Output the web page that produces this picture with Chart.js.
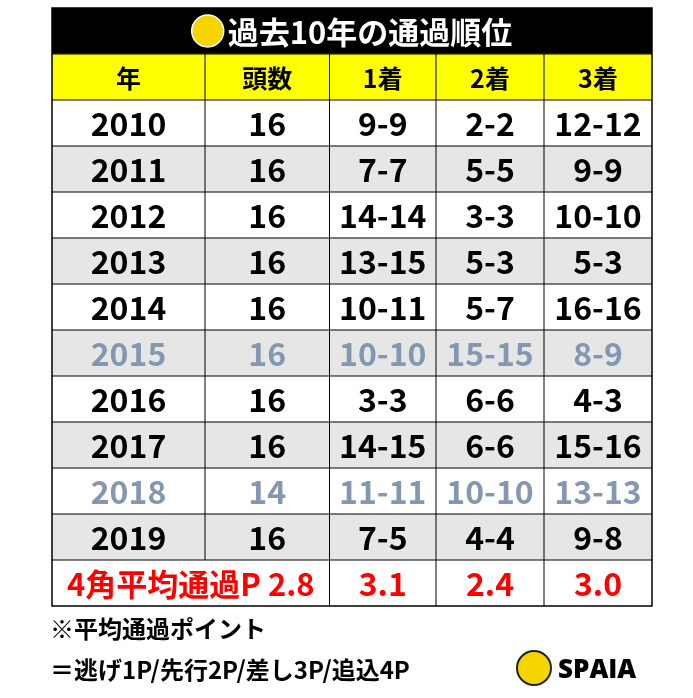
<!DOCTYPE html>
<html><head><meta charset="utf-8">
<script src="https://cdn.jsdelivr.net/npm/chart.js@4"></script>
<style>
body{margin:0;background:#fff;width:693px;height:698px;overflow:hidden;font-family:"Noto Sans CJK JP",sans-serif;}
#wrap{position:absolute;left:0;top:0;width:693px;height:698px;}
.note{position:absolute;left:50px;font-weight:bold;font-size:24px;color:#000;}
#logo{position:absolute;left:516px;top:650px;display:flex;align-items:center;font-family:"Open Sans",sans-serif;font-weight:800;font-size:26px;}
#logo span.c{display:inline-block;width:36px;height:36px;border-radius:50%;background:#f5d400;margin-right:6px;border:2px solid #222;box-sizing:border-box;}
</style></head><body>
<div id="wrap"><canvas id="c" width="693" height="698"></canvas></div>
<div class="note" style="top:610px">※平均通過ポイント</div>
<div class="note" style="top:651px">＝逃げ1P/先行2P/差し3P/追込4P</div>
<div id="logo"><span class="c"></span>SPAIA</div>
<script>
const title = "過去10年の通過順位";
const headers = ["年","頭数","1着","2着","3着"];
const years = ["2010","2011","2012","2013","2014","2015","2016","2017","2018","2019"];
const runners = ["16","16","16","16","16","16","16","16","14","16"];
const first = ["9-9","7-7","14-14","13-15","10-11","10-10","3-3","14-15","11-11","7-5"];
const second = ["2-2","5-5","3-3","5-3","5-7","15-15","6-6","6-6","10-10","4-4"];
const third = ["12-12","9-9","10-10","5-3","16-16","8-9","4-3","15-16","13-13","9-8"];
const avgLabel = "4角平均通過P 2.8";
const avg = ["3.1","2.4","3.0"];
const grayedYears = ["2015","2018"];

const rows = ["title","header",...years,"avg"];
const bg = rows.map((r,i)=> r==="title"?"#000":r==="header"?"#ffff00":(r!=="avg" && (i-2)%2===1)?"#e7e6e6":"#fff");
const colEdges = [0,1.02,1.85,2.56,3.28,4];

const F = '"Noto Sans CJK JP",sans-serif';
const tablePlugin = {
  id:'table',
  afterDatasetsDraw(chart){
    const ctx=chart.ctx, xs=chart.scales.x, ys=chart.scales.y;
    const L=xs.getPixelForValue(0), R=xs.getPixelForValue(4);
    const step = ys.getPixelForValue(1)-ys.getPixelForValue(0);
    const top=ys.getPixelForValue(0)-step/2, bot=ys.getPixelForValue(rows.length-1)+step/2;
    const cx = k => (xs.getPixelForValue(colEdges[k])+xs.getPixelForValue(colEdges[k+1]))/2;
    ctx.save();
    ctx.strokeStyle="#000";ctx.lineWidth=1;
    for(let i=1;i<rows.length;i++){const y=ys.getPixelForValue(i)-step/2;ctx.beginPath();ctx.moveTo(L,y);ctx.lineTo(R,y);ctx.stroke();}
    for(let k=1;k<5;k++){const x=xs.getPixelForValue(colEdges[k]);
      const y0=ys.getPixelForValue(1)-step/2; const y1 = k===1? ys.getPixelForValue(rows.length-2)+step/2 : bot;
      ctx.beginPath();ctx.moveTo(x,y0);ctx.lineTo(x,y1);ctx.stroke();}
    ctx.lineWidth=1.5;ctx.strokeRect(L,top,R-L,bot-top);
    ctx.textAlign="center";ctx.textBaseline="middle";
    let y=ys.getPixelForValue(0);
    ctx.font="bold 31px "+F;ctx.fillStyle="#fff";
    const tw=ctx.measureText(title).width; const tx=(L+R)/2+18;
    ctx.fillText(title,tx,y+1);
    const lx=tx-tw/2-20;
    ctx.beginPath();ctx.arc(lx,y,16,0,Math.PI*2);ctx.fillStyle="#f5d400";ctx.fill();ctx.strokeStyle="#fff";ctx.lineWidth=1.5;ctx.stroke();
    y=ys.getPixelForValue(1);ctx.font="bold 25px "+F;ctx.fillStyle="#000";
    headers.forEach((h,k)=>ctx.fillText(h,cx(k),y+1));
    ctx.font="bold 32px "+F;
    years.forEach((yr,i)=>{
      const yy=ys.getPixelForValue(i+2)+1;
      ctx.fillStyle=grayedYears.includes(yr)?"#8497b0":"#000";
      [yr,runners[i],first[i],second[i],third[i]].forEach((t,k)=>ctx.fillText(t,cx(k),yy));
    });
    const ya=ys.getPixelForValue(rows.length-1)+1;ctx.fillStyle="#ff0000";
    ctx.font="bold 31px "+F;
    ctx.fillText(avgLabel,(L+xs.getPixelForValue(colEdges[2]))/2,ya);
    ctx.font="bold 32px "+F;
    avg.forEach((t,k)=>ctx.fillText(t,cx(k+2),ya));
    ctx.restore();
  }
};

new Chart(document.getElementById('c'),{
  type:'bar',
  data:{labels:rows,datasets:[{data:rows.map(()=>[0,4]),backgroundColor:bg,barPercentage:1,categoryPercentage:1,borderWidth:0}]},
  options:{
    indexAxis:'y',responsive:false,animation:false,
    layout:{padding:{left:52,right:41,top:8,bottom:92}},
    plugins:{legend:{display:false},tooltip:{enabled:false}},
    scales:{
      x:{type:'linear',min:0,max:4,display:false},
      y:{type:'category',display:false,offset:true}
    }
  },
  plugins:[tablePlugin]
});
</script></body></html>
